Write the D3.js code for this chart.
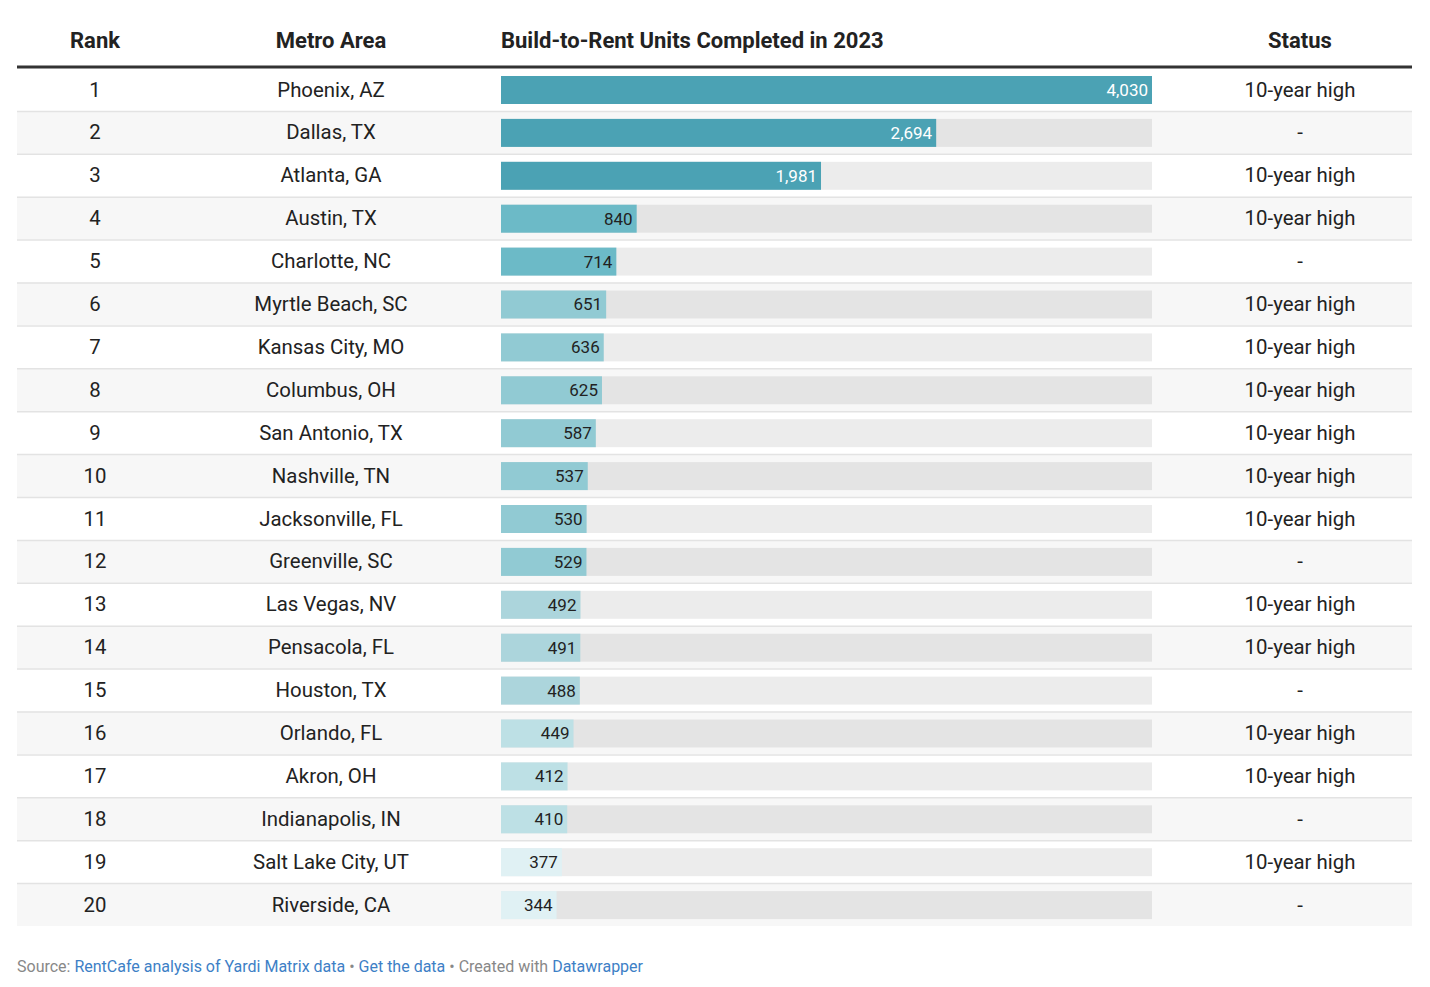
<!DOCTYPE html>
<html>
<head>
<meta charset="utf-8">
<script src="https://cdn.jsdelivr.net/npm/d3@7"></script>
<style>
  html, body { margin: 0; padding: 0; background: #fff; }
  svg text { font-family: Roboto, "Noto Sans", sans-serif; }
</style>
</head>
<body>
<svg id="chart" width="1430" height="987"></svg>
<script>
const ranks = [1,2,3,4,5,6,7,8,9,10,11,12,13,14,15,16,17,18,19,20];
const metros = ["Phoenix, AZ","Dallas, TX","Atlanta, GA","Austin, TX","Charlotte, NC","Myrtle Beach, SC","Kansas City, MO","Columbus, OH","San Antonio, TX","Nashville, TN","Jacksonville, FL","Greenville, SC","Las Vegas, NV","Pensacola, FL","Houston, TX","Orlando, FL","Akron, OH","Indianapolis, IN","Salt Lake City, UT","Riverside, CA"];
const units = [4030,2694,1981,840,714,651,636,625,587,537,530,529,492,491,488,449,412,410,377,344];
const statuses = ["10-year high","-","10-year high","10-year high","-","10-year high","10-year high","10-year high","10-year high","10-year high","10-year high","-","10-year high","10-year high","-","10-year high","10-year high","-","10-year high","-"];
const headers = ["Rank","Metro Area","Build-to-Rent Units Completed in 2023","Status"];
const colorThresholds = [400, 450, 500, 700, 1000];
const colorRange = ["#e0f1f4","#bde0e5","#acd5dc","#91cad3","#6cbac7","#4ba2b4"];

const svg = d3.select("#chart");
const left = 17, right = 1412;
const headerY = 40, ruleY = 67, rowTop = 68, rowH = 42.9;
const barX0 = 501, barX1 = 1152;

const x = d3.scaleLinear().domain([0, d3.max(units)]).range([barX0, barX1]);
const y = d3.scaleBand().domain(d3.range(ranks.length)).range([rowTop, rowTop + rowH * ranks.length]).paddingInner(0);
const color = d3.scaleThreshold().domain(colorThresholds).range(colorRange);

const data = ranks.map((r, i) => ({ rank: r, metro: metros[i], units: units[i], status: statuses[i], i }));

// header
const hx = [95, 331, 501, 1300];
const ha = ["middle","middle","start","middle"];
svg.selectAll("text.hdr").data(headers).join("text")
  .attr("class","hdr")
  .attr("x", (d,i) => hx[i]).attr("y", headerY)
  .attr("dy","0.35em")
  .attr("text-anchor", (d,i) => ha[i])
  .attr("font-size", 22).attr("font-weight", 700).attr("fill", "#222")
  .text(d => d);

// rows
const rows = svg.selectAll("g.row").data(data).join("g")
  .attr("class","row")
  .attr("transform", d => `translate(0,${y(d.i)})`);

rows.append("rect")
  .attr("x", left).attr("width", right - left)
  .attr("y", 0).attr("height", y.bandwidth())
  .attr("fill", d => d.i % 2 === 1 ? "#f7f7f7" : "#ffffff");

rows.filter(d => d.i > 0).append("line")
  .attr("x1", left).attr("x2", right)
  .attr("y1", 0.5).attr("y2", 0.5)
  .attr("stroke", "#e3e3e3").attr("stroke-width", 1.5);

const barTop = 8, barH = 28;
rows.append("rect")
  .attr("x", barX0).attr("width", barX1 - barX0)
  .attr("y", barTop).attr("height", barH)
  .attr("fill", "rgba(0,0,0,0.075)");

rows.append("rect")
  .attr("x", barX0).attr("width", d => x(d.units) - barX0)
  .attr("y", barTop).attr("height", barH)
  .attr("fill", d => color(d.units));

const fmt = d3.format(",");
rows.append("text")
  .attr("x", d => x(d.units) - 4)
  .attr("y", barTop + barH / 2)
  .attr("dy", "0.35em")
  .attr("text-anchor", "end")
  .attr("font-size", 17)
  .attr("fill", d => d.units >= 1000 ? "#ffffff" : "#222")
  .text(d => fmt(d.units));

const cellText = (sel, xpos, fn) => sel.append("text")
  .attr("x", xpos).attr("y", rowH / 2)
  .attr("dy", "0.35em").attr("text-anchor", "middle")
  .attr("font-size", 20.4).attr("fill", "#222")
  .text(fn);

cellText(rows, hx[0], d => d.rank);
cellText(rows, hx[1], d => d.metro);
cellText(rows, hx[3], d => d.status);

// header rule
svg.append("line")
  .attr("x1", left).attr("x2", right)
  .attr("y1", ruleY).attr("y2", ruleY)
  .attr("stroke", "#333").attr("stroke-width", 3);

// footer
const foot = svg.append("text")
  .attr("x", left).attr("y", 966)
  .attr("dy", "0.35em")
  .attr("font-size", 16).attr("fill", "#888");
const parts = [
  ["Source: ", "#888"],
  ["RentCafe analysis of Yardi Matrix data", "#3d80c6"],
  [" • ", "#888"],
  ["Get the data", "#3d80c6"],
  [" • Created with ", "#888"],
  ["Datawrapper", "#3d80c6"]
];
foot.selectAll("tspan").data(parts).join("tspan")
  .attr("fill", d => d[1]).text(d => d[0]);
</script>
</body>
</html>
